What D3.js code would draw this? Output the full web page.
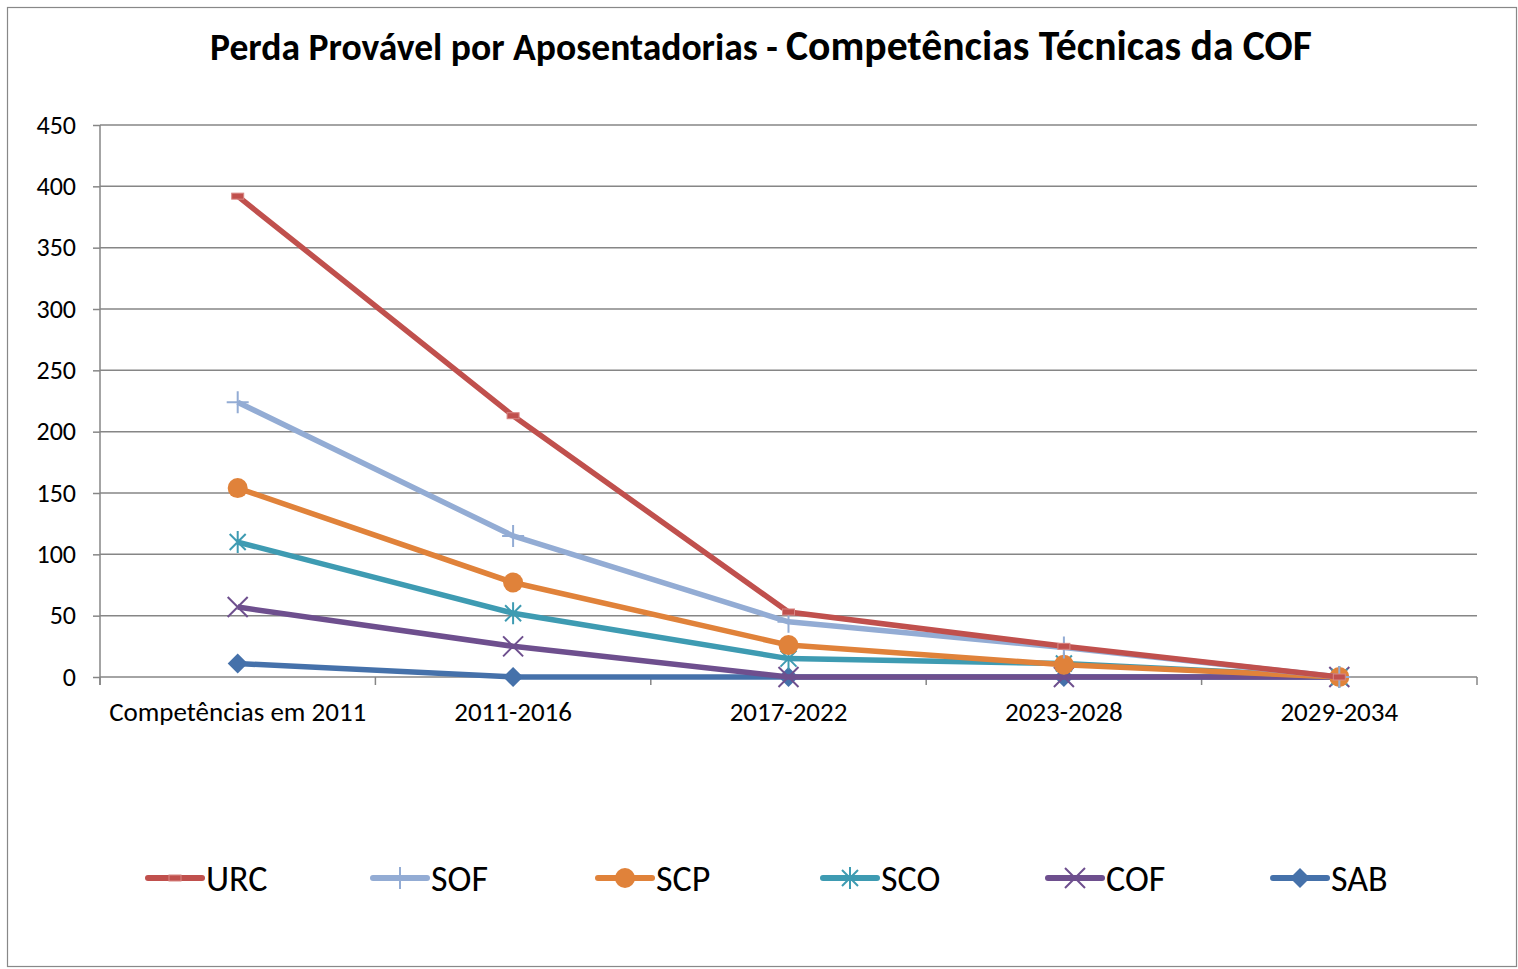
<!DOCTYPE html>
<html><head><meta charset="utf-8">
<script src="https://cdn.jsdelivr.net/npm/d3@7"></script>
<style>body{margin:0;background:#fff}svg{display:block}</style>
</head><body>
<script>
const categories = ["Competências em 2011","2011-2016","2017-2022","2023-2028","2029-2034"];
const seriesNames = ["URC","SOF","SCP","SCO","COF","SAB"];
const URC = [392, 213, 53, 25, 0];
const SOF = [224, 115, 45, 24, 0];
const SCP = [154, 77, 26, 10, 0];
const SCO = [110, 52, 15, 11, 0];
const COF = [57, 25, 0, 0, 0];
const SAB = [11, 0, 0, 0, 0];
const yTicks = [0,50,100,150,200,250,300,350,400,450];
const colors = {URC:"#C0504D", SOF:"#93ACD4", SCP:"#E0823A", SCO:"#3E9BB2", COF:"#6E4F8E", SAB:"#4571AA"};
const markers = {URC:"dash", SOF:"plus", SCP:"circle", SCO:"star", COF:"x", SAB:"diamond"};
const data = {URC, SOF, SCP, SCO, COF, SAB};

(function(){
const W = 1518, H = 969;
const svg = d3.select("body").append("svg").attr("width", W).attr("height", H);
svg.append("rect").attr("x",7.5).attr("y",7.5).attr("width",1509).attr("height",959)
  .attr("fill","#fff").attr("stroke","#888").attr("stroke-width",1.2);

const pL = 100, pR = 1477, pT = 125, pB = 677;
const x = d3.scaleBand().domain(categories).range([pL, pR]);
const y = d3.scaleLinear().domain([0, 450]).range([pB, pT]);
const font = "Carlito, Calibri, Lato, 'Open Sans', sans-serif";

svg.append("g").selectAll("line").data(yTicks.filter(d=>d>0)).join("line")
  .attr("x1", pL).attr("x2", pR).attr("y1", d=>y(d)).attr("y2", d=>y(d))
  .attr("stroke","#868686").attr("stroke-width",1.5);

const ya = svg.append("g").attr("transform",`translate(${pL},0)`)
  .call(d3.axisLeft(y).tickValues(yTicks).tickSize(7).tickPadding(17));
ya.select(".domain").attr("stroke","#868686").attr("stroke-width",1.5).attr("d",`M0,${pT}V${pB+8}`);
ya.selectAll(".tick line").attr("stroke","#868686").attr("stroke-width",1.5);
ya.selectAll("text").attr("font-family",font).attr("font-size",26).attr("fill","#000");

const xa = svg.append("g").attr("transform",`translate(0,${pB})`)
  .call(d3.axisBottom(x).tickSize(0).tickPadding(25));
xa.select(".domain").attr("stroke","#868686").attr("stroke-width",1.5).attr("d",`M${pL},0H${pR}`);
xa.selectAll("text").attr("font-family",font).attr("font-size",27).attr("fill","#000");
const bounds = categories.map(c=>x(c)).concat([pR]);
xa.append("g").selectAll("line").data(bounds).join("line")
  .attr("x1",d=>d).attr("x2",d=>d).attr("y1",0).attr("y2",8)
  .attr("stroke","#868686").attr("stroke-width",1.5);

const cx = c => x(c) + x.bandwidth()/2;

function drawMarker(g, type, color, px, py) {
  if (type==="dash") {
    g.append("rect").attr("x",px-6).attr("y",py-3).attr("width",12).attr("height",6)
      .attr("fill",color).attr("stroke","#d88784").attr("stroke-width",1);
  } else if (type==="plus") {
    g.append("path").attr("d",`M${px-11},${py}H${px+11}M${px},${py-11}V${py+11}`)
      .attr("stroke",color).attr("stroke-width",2);
  } else if (type==="circle") {
    g.append("circle").attr("cx",px).attr("cy",py).attr("r",10).attr("fill",color);
  } else if (type==="star") {
    const r=11, a=8;
    g.append("path").attr("d",`M${px-a},${py-a}L${px+a},${py+a}M${px-a},${py+a}L${px+a},${py-a}M${px},${py-r}V${py+r}`)
      .attr("stroke",color).attr("stroke-width",2);
  } else if (type==="x") {
    const a=10;
    g.append("path").attr("d",`M${px-a},${py-a}L${px+a},${py+a}M${px-a},${py+a}L${px+a},${py-a}`)
      .attr("stroke",color).attr("stroke-width",2);
  } else if (type==="diamond") {
    const a=10;
    g.append("path").attr("d",`M${px},${py-a}L${px+a},${py}L${px},${py+a}L${px-a},${py}Z`).attr("fill",color);
  }
}

const line = d3.line().x((d,i)=>cx(categories[i])).y(d=>y(d));
seriesNames.slice().reverse().forEach(name => {
  const g = svg.append("g");
  g.append("path").datum(data[name]).attr("d", line).attr("fill","none")
    .attr("stroke", colors[name]).attr("stroke-width",5.5).attr("stroke-linejoin","round");
  data[name].forEach((v,i) => drawMarker(g, markers[name], colors[name], cx(categories[i]), y(v)));
});

function fitText(xpos, text, size, target) {
  const el = svg.append("text").attr("x", xpos).attr("y", 60)
    .attr("font-family",font).attr("font-weight","bold").attr("fill","#000")
    .attr("font-size", size).text(text);
  const w = el.node().getComputedTextLength();
  if (w > 0) el.attr("font-size", size * target / w);
  return el;
}
fitText(210, "Perda Provável por Aposentadorias -", 30, 568);
fitText(786, "Competências Técnicas da COF", 30, 526);

const lg = svg.append("g");
seriesNames.forEach((name,i) => {
  const lx = 148 + i*225, ly = 878;
  lg.append("line").attr("x1",lx).attr("x2",lx+54).attr("y1",ly).attr("y2",ly)
    .attr("stroke",colors[name]).attr("stroke-width",6).attr("stroke-linecap","round");
  drawMarker(lg, markers[name], colors[name], lx+27, ly);
  lg.append("text").attr("x",lx+58).attr("y",ly+13).attr("font-family",font).attr("font-size",36)
    .attr("fill","#000").text(name);
});
})();
</script>
</body></html>
